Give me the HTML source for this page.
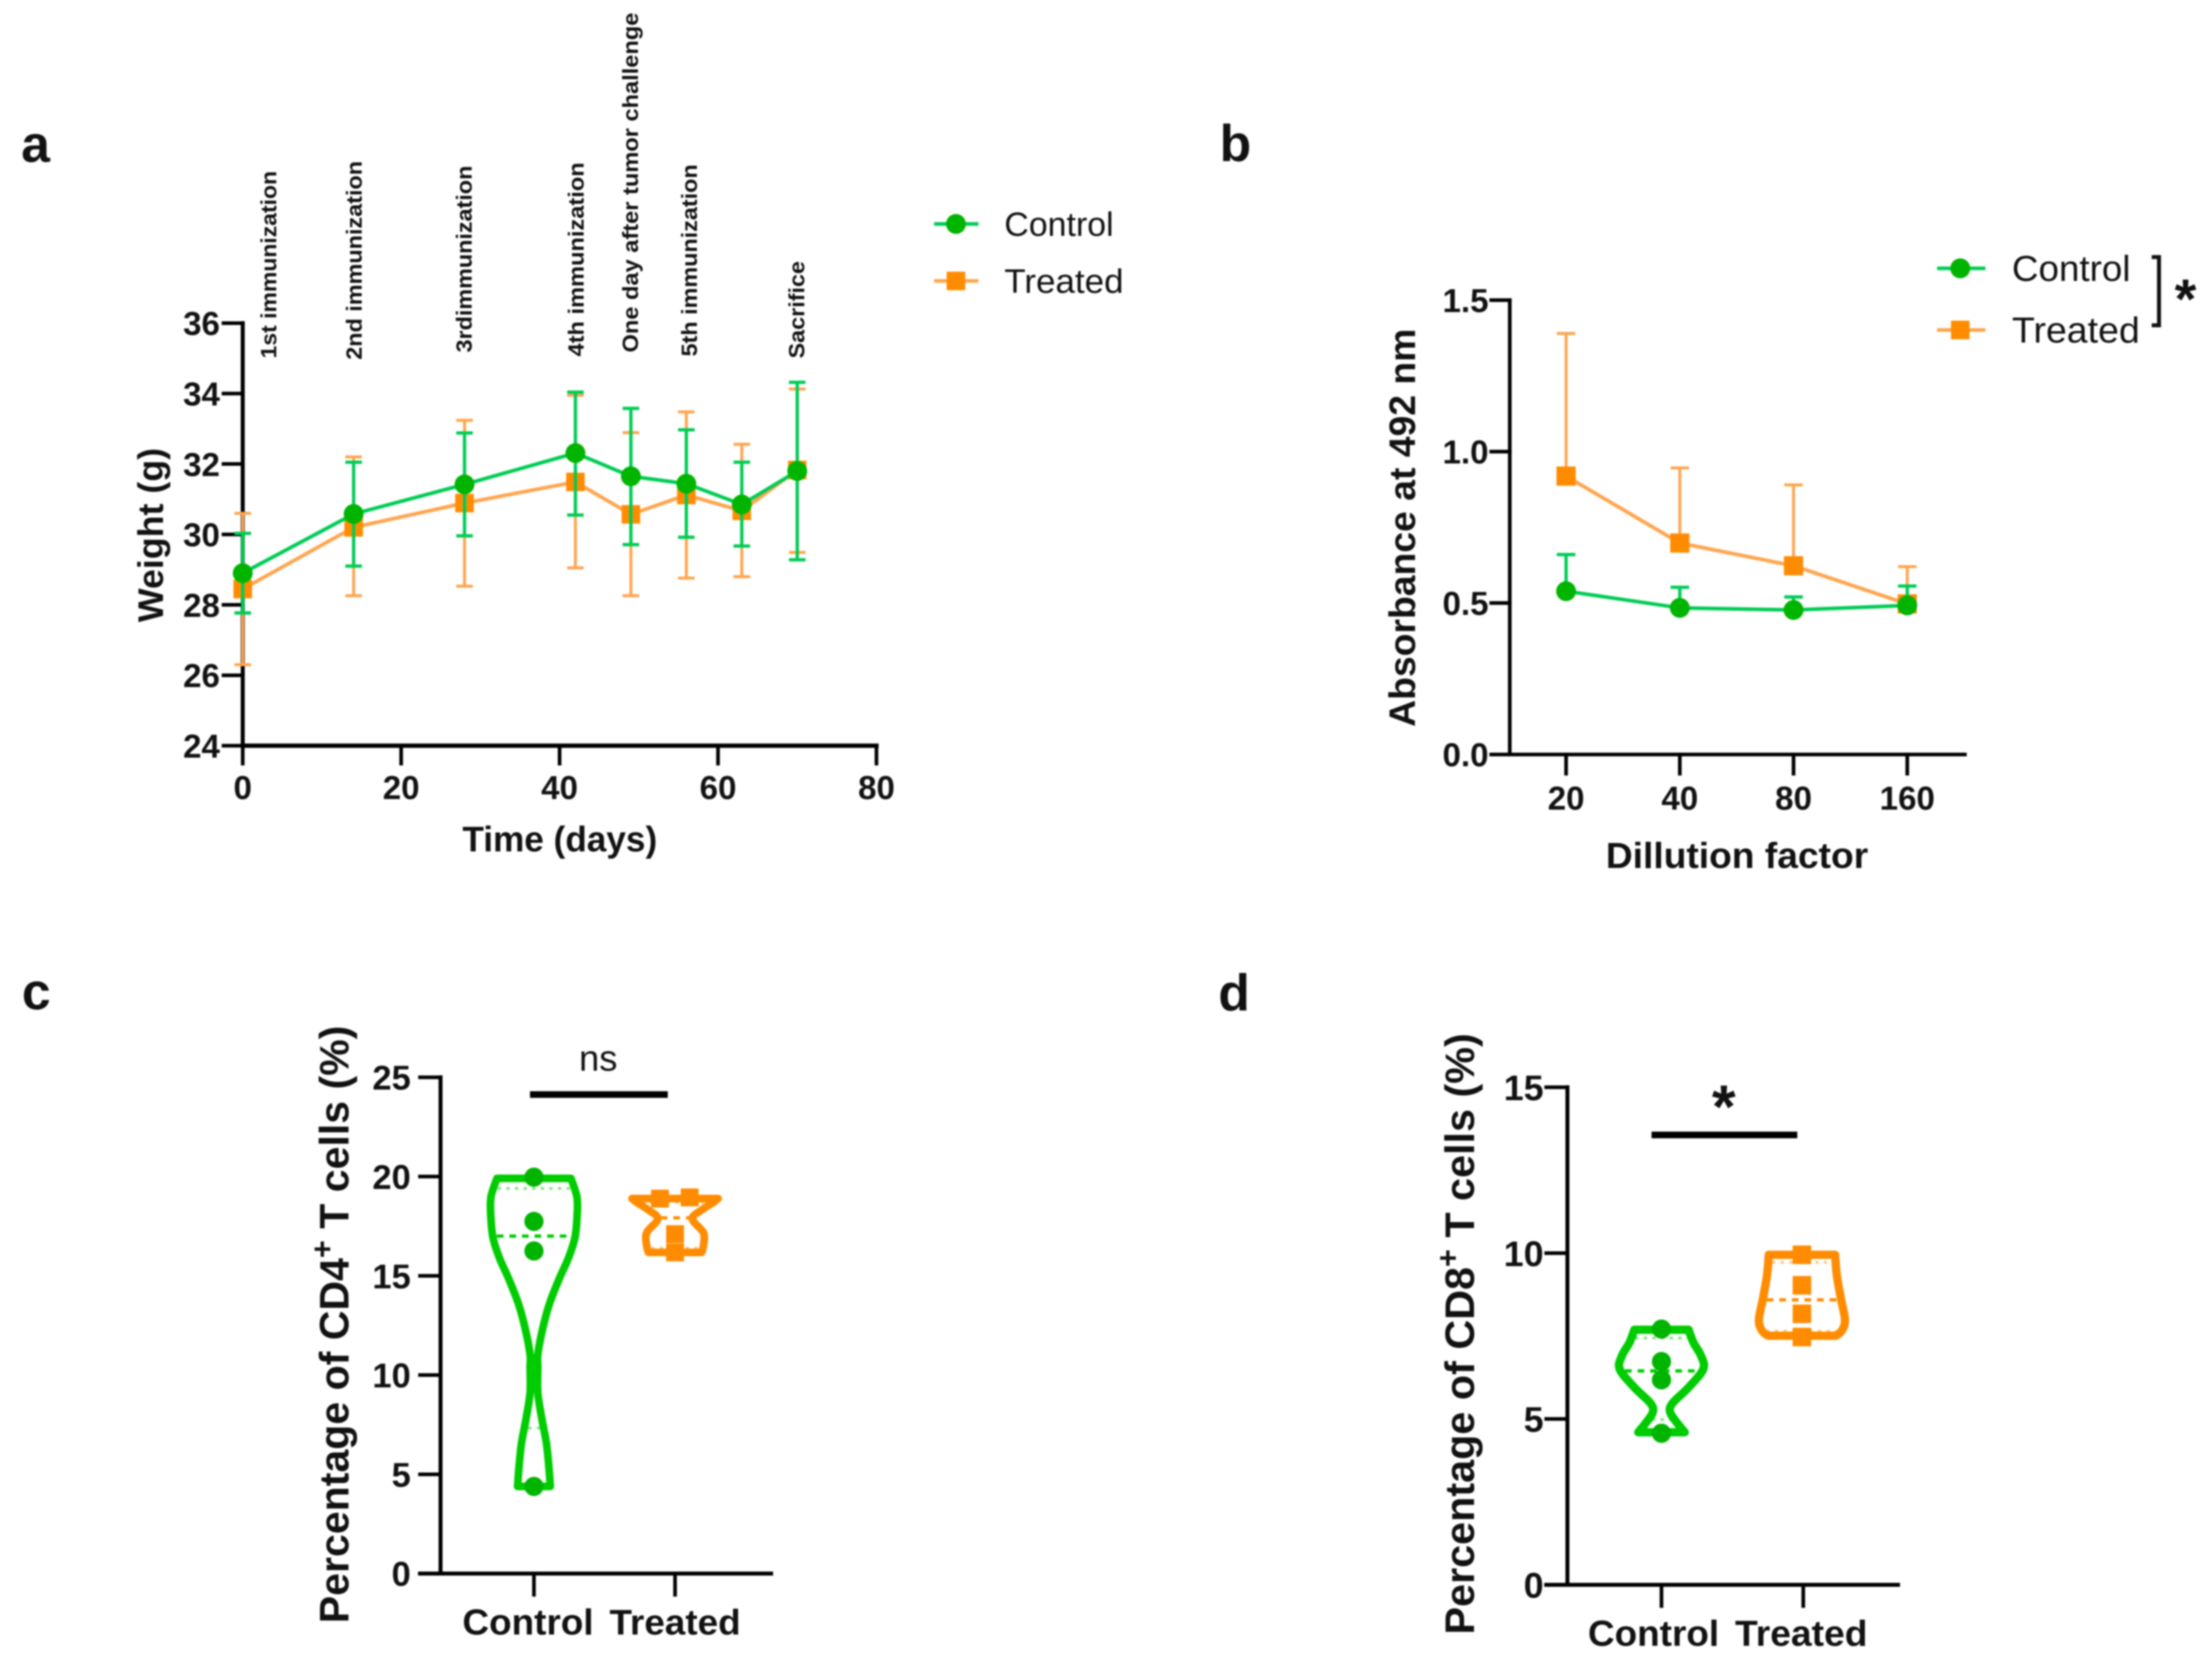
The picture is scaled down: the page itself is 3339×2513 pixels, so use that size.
<!DOCTYPE html>
<html lang="en">
<head>
<meta charset="utf-8">
<title>Weight, absorbance and T cell percentages: control vs treated</title>
<style>
html,body{margin:0;padding:0;background:#fff;width:3339px;height:2513px;overflow:hidden}
svg{display:block;filter:blur(1.3px)}
text{font-family:"Liberation Sans",sans-serif;fill:#111}
.b{font-weight:700}
</style>
</head>
<body>
<svg id="figure" xmlns="http://www.w3.org/2000/svg" width="3339" height="2513" viewBox="0 0 3339 2513">
<rect width="3339" height="2513" fill="#fff"/>

<text class="b" x="32" y="244" font-size="78">a</text>
<text class="b" x="1841" y="243" font-size="78">b</text>
<text class="b" x="33" y="1523" font-size="78">c</text>
<text class="b" x="1839" y="1525" font-size="78">d</text>

<g id="panel-a">
<text class="b" transform="translate(417,541) rotate(-90)" font-size="33" textLength="283" lengthAdjust="spacingAndGlyphs">1st immunization</text>
<text class="b" transform="translate(546,543) rotate(-90)" font-size="33" textLength="300" lengthAdjust="spacingAndGlyphs">2nd immunization</text>
<text class="b" transform="translate(712,532) rotate(-90)" font-size="33" textLength="282" lengthAdjust="spacingAndGlyphs">3rdimmunization</text>
<text class="b" transform="translate(881,538) rotate(-90)" font-size="33" textLength="293" lengthAdjust="spacingAndGlyphs">4th immunization</text>
<text class="b" transform="translate(963,532) rotate(-90)" font-size="33" textLength="513" lengthAdjust="spacingAndGlyphs">One day after tumor challenge</text>
<text class="b" transform="translate(1052,538) rotate(-90)" font-size="33" textLength="290" lengthAdjust="spacingAndGlyphs">5th immunization</text>
<text class="b" transform="translate(1214,541) rotate(-90)" font-size="33" textLength="147" lengthAdjust="spacingAndGlyphs">Sacrifice</text>
<text class="b" transform="translate(246,939) rotate(-90)" font-size="54" textLength="263" lengthAdjust="spacingAndGlyphs">Weight (g)</text>
<text class="b" x="845" y="1285" font-size="54" text-anchor="middle" textLength="294" lengthAdjust="spacingAndGlyphs">Time (days)</text>
<g>
<line x1="1410" y1="338" x2="1477" y2="338" stroke="#00cc55" stroke-width="5.5"/>
<circle cx="1443" cy="338" r="15" fill="#00b400"/>
<text x="1516" y="356" font-size="51" textLength="165" lengthAdjust="spacingAndGlyphs">Control</text>
<line x1="1410" y1="424" x2="1477" y2="424" stroke="#ffa54f" stroke-width="5.5"/>
<rect x="1429" y="410" width="28" height="28" fill="#ff8c00"/>
<text x="1516" y="442" font-size="51" textLength="180" lengthAdjust="spacingAndGlyphs">Treated</text>
</g>
</g>

<g id="panel-b">
<text class="b" transform="translate(2136,1097) rotate(-90)" font-size="56" textLength="601" lengthAdjust="spacingAndGlyphs">Absorbance at 492 nm</text>
<text class="b" x="2622" y="1310" font-size="55" text-anchor="middle" textLength="396" lengthAdjust="spacingAndGlyphs">Dillution factor</text>
<g>
<line x1="2924" y1="405" x2="2997" y2="405" stroke="#00cc55" stroke-width="5.5"/>
<circle cx="2959" cy="405" r="15" fill="#00b400"/>
<text x="3037" y="424" font-size="55" textLength="179" lengthAdjust="spacingAndGlyphs">Control</text>
<line x1="2924" y1="498" x2="2997" y2="498" stroke="#ffa54f" stroke-width="5.5"/>
<rect x="2945" y="484" width="28" height="28" fill="#ff8c00"/>
<text x="3037" y="517" font-size="55" textLength="193" lengthAdjust="spacingAndGlyphs">Treated</text>
<path d="M3248 388H3259V491H3248" fill="none" stroke="#111" stroke-width="6"/>
<text class="b" x="3299" y="480" font-size="84" text-anchor="middle">*</text>
</g>
</g>

<g id="panel-c">
<text class="b" transform="translate(526,2450) rotate(-90)" font-size="62">Percentage of CD4<tspan dy="-24" font-size="46">+</tspan><tspan dy="24"> T cells (%)</tspan></text>
<line x1="800" y1="1652" x2="1008" y2="1652" stroke="#000" stroke-width="10"/>
<text x="903" y="1616" font-size="55" text-anchor="middle">ns</text>
</g>

<g id="panel-d">
<text class="b" transform="translate(2225,2467) rotate(-90)" font-size="62.4">Percentage of CD8<tspan dy="-24" font-size="46">+</tspan><tspan dy="24"> T cells (%)</tspan></text>
<line x1="2493" y1="1713" x2="2713" y2="1713" stroke="#000" stroke-width="10"/>
<text class="b" x="2602" y="1702" font-size="92" text-anchor="middle">*</text>
</g>
</svg>

<script>
// Panel a data
const aDays = [0, 14, 28, 42, 49, 56, 63, 70];
const aControlMean = [28.9, 30.58, 31.42, 32.31, 31.65, 31.44, 30.85, 31.8];
const aControlUpper = [30.03, 32.05, 32.88, 34.04, 33.58, 32.97, 32.05, 34.32];
const aControlLower = [27.77, 29.1, 29.96, 30.55, 29.71, 29.92, 29.67, 29.28];
const aTreatedMean = [28.45, 30.2, 30.89, 31.49, 30.57, 31.12, 30.67, 31.83];
const aTreatedUpper = [30.6, 32.2, 33.24, 33.95, 32.89, 33.48, 32.56, 34.13];
const aTreatedLower = [26.3, 28.26, 28.53, 29.05, 28.26, 28.76, 28.8, 29.49];
const aYTicks = [24, 26, 28, 30, 32, 34, 36];
const aXTicks = [0, 20, 40, 60, 80];

// Panel b data
const bDilutions = ['20', '40', '80', '160'];
const bControlMean = [0.539, 0.484, 0.477, 0.492];
const bControlUpper = [0.66, 0.552, 0.52, 0.556];
const bTreatedMean = [0.919, 0.698, 0.623, 0.497];
const bTreatedUpper = [1.39, 0.946, 0.89, 0.62];
const bYTicks = ['0.0', '0.5', '1.0', '1.5'];

// Panel c data
const groups = ['Control', 'Treated'];
const cYTicks = [0, 5, 10, 15, 20, 25];
const cControlLevels = [19.91, 18.95, 17.93, 16.91, 15.89, 14.87, 13.59, 12.31, 11.03, 10.39, 9.12, 7.84, 6.56, 5.29, 4.39];
const cControlDensity = [0.86, 1, 1, 0.95, 0.8, 0.59, 0.36, 0.2, 0.09, 0.09, 0.09, 0.18, 0.29, 0.35, 0.38];
const cControlPoints = [19.97, 17.74, 16.25, 4.39];
const cControlQuartiles = [7.33, 17.0, 19.4];
const cTreatedLevels = [18.89, 18.7, 18.32, 17.87, 17.17, 16.53, 16.18];
const cTreatedDensity = [1, 0.89, 0.62, 0.4, 0.66, 0.66, 0.62];
const cTreatedPoints = [18.89, 18.95, 17.1, 16.18];
const cTreatedPointJitter = [-0.35, 0.34, 0, 0];
const cTreatedQuartiles = [16.4, 17.92, 18.7];

// Panel d data
const dYTicks = [0, 5, 10, 15];
const dControlLevels = [7.69, 7.31, 6.9, 6.5, 5.95, 5.48, 5.21, 4.87, 4.6];
const dControlDensity = [0.63, 0.74, 0.92, 0.97, 0.63, 0.26, 0.2, 0.37, 0.54];
const dControlPoints = [7.71, 6.73, 6.18, 4.57];
const dControlQuartiles = [4.98, 6.45, 7.44];
const dTreatedLevels = [9.95, 9.34, 8.66, 7.98, 7.65, 7.51];
const dTreatedDensity = [0.77, 0.81, 0.9, 1, 0.92, 0.79];
const dTreatedPoints = [9.95, 9.03, 8.17, 7.47];
const dTreatedQuartiles = [7.65, 8.59, 9.72];

const GREEN_LINE = '#00cc55', GREEN_MARK = '#00b400', GREEN_VIOLIN = '#00cc00';
const ORANGE_LINE = '#ffa54f', ORANGE_MARK = '#ff8c00';
const NS = 'http://www.w3.org/2000/svg';

function linear(d0, d1, r0, r1) {
  return function (v) { return r0 + (v - d0) * (r1 - r0) / (d1 - d0); };
}
function node(parent, tag, props, content) {
  const el = document.createElementNS(NS, tag);
  for (const k in props) el.setAttribute(k, props[k]);
  if (content !== undefined) el.textContent = content;
  parent.appendChild(el);
  return el;
}
function axisLine(parent, x1, y1, x2, y2, width, name) {
  const el = node(parent, 'line', { x1: x1, y1: y1, x2: x2, y2: y2, stroke: '#000', 'stroke-width': width, 'stroke-linecap': 'square' });
  
  
  return el;
}
function yTickLabel(parent, x, y, size, label) {
  const el = node(parent, 'text', { x: x, y: y + size * 0.36, 'font-size': size, 'font-weight': 700, 'text-anchor': 'end' }, label);
  
  
}
function xTickLabel(parent, x, y, size, label, len) {
  const props = { x: x, y: y, 'font-size': size, 'font-weight': 700, 'text-anchor': 'middle' };
  if (len) { props.textLength = len; props.lengthAdjust = 'spacingAndGlyphs'; }
  const el = node(parent, 'text', props, label);
  
  
}
function drawCircle(parent, x, y, r, fill, name) {
  const el = node(parent, 'circle', { cx: x, cy: y, r: r, fill: fill });
  
  
}
function drawSquare(parent, x, y, s, fill, name) {
  const el = node(parent, 'rect', { x: x - s / 2, y: y - s / 2, width: s, height: s, fill: fill });
  
  
}
function drawSeriesLine(parent, xs, ys, color, width, name) {
  const pts = xs.map(function (x, i) { return x + ',' + ys[i]; }).join(' ');
  const el = node(parent, 'polyline', { points: pts, fill: 'none', stroke: color, 'stroke-width': width, 'stroke-linejoin': 'round' });
  
  
}
function drawError(parent, x, yTop, yBottom, cap, color, width, name) {
  const d = 'M' + x + ' ' + yTop + 'V' + yBottom +
    'M' + (x - cap / 2) + ' ' + yTop + 'H' + (x + cap / 2) +
    'M' + (x - cap / 2) + ' ' + yBottom + 'H' + (x + cap / 2);
  const el = node(parent, 'path', { d: d, fill: 'none', stroke: color, 'stroke-width': width });
  
  
}

// Panel a
(function () {
  const g = document.getElementById('panel-a');
  const x = linear(0, 80, 366.4, 1323);
  const y = linear(24, 36, 1125.5, 487.7);
  axisLine(g, x(0), y(24), x(0), y(36), 6, 'y-axis');
  axisLine(g, x(0), y(24), x(80), y(24), 6.5, 'x-axis');
  aYTicks.forEach(function (t) {
    axisLine(g, x(0) - 29, y(t), x(0), y(t), 5.5, 'y-tick-' + t);
    yTickLabel(g, 332, y(t), 50, t);
  });
  aXTicks.forEach(function (t) {
    axisLine(g, x(t), y(24), x(t), y(24) + 27, 5.5, 'x-tick-' + t);
    xTickLabel(g, x(t), 1206, 50, t);
  });
  const px = aDays.map(x);
  aDays.forEach(function (d, i) {
    drawError(g, x(d), y(aTreatedUpper[i]), y(aTreatedLower[i]), 25, ORANGE_LINE, 4.5, 'treated-error-day-' + d);
  });
  drawSeriesLine(g, px, aTreatedMean.map(y), ORANGE_LINE, 5.5, 'treated-line');
  aDays.forEach(function (d, i) {
    drawSquare(g, x(d), y(aTreatedMean[i]), 28, ORANGE_MARK, 'treated-point-day-' + d);
  });
  aDays.forEach(function (d, i) {
    drawError(g, x(d), y(aControlUpper[i]), y(aControlLower[i]), 25, GREEN_LINE, 5, 'control-error-day-' + d);
  });
  drawSeriesLine(g, px, aControlMean.map(y), GREEN_LINE, 5.5, 'control-line');
  aDays.forEach(function (d, i) {
    drawCircle(g, x(d), y(aControlMean[i]), 15, GREEN_MARK, 'control-point-day-' + d);
  });
})();

// Panel b
(function () {
  const g = document.getElementById('panel-b');
  const x = linear(0, 3, 2364, 2879);
  const y = linear(0, 1.5, 1138.7, 453);
  axisLine(g, 2279, y(0), 2279, y(1.5), 5.5, 'y-axis');
  axisLine(g, 2279 - 28, y(0), 2966, y(0), 5.5, 'x-axis');
  bYTicks.forEach(function (t) {
    if (Number(t) > 0) axisLine(g, 2279 - 28, y(Number(t)), 2279, y(Number(t)), 5.5, 'y-tick-' + t);
    yTickLabel(g, 2247, y(Number(t)), 50, t);
  });
  const idx = bDilutions.map(function (_, i) { return x(i); });
  bDilutions.forEach(function (label, i) {
    axisLine(g, x(i), y(0), x(i), y(0) + 29, 5.5, 'x-tick-' + label);
    xTickLabel(g, x(i), 1222, 50, label);
  });
  bDilutions.forEach(function (label, i) {
    drawError(g, x(i), y(bTreatedUpper[i]), y(bTreatedMean[i]), 28, ORANGE_LINE, 4.5, 'treated-error-' + label);
  });
  drawSeriesLine(g, idx, bTreatedMean.map(y), ORANGE_LINE, 5.5, 'treated-line');
  bDilutions.forEach(function (label, i) {
    drawSquare(g, x(i), y(bTreatedMean[i]), 29, ORANGE_MARK, 'treated-point-' + label);
  });
  bDilutions.forEach(function (label, i) {
    drawError(g, x(i), y(bControlUpper[i]), y(bControlMean[i]), 28, GREEN_LINE, 5, 'control-error-' + label);
  });
  drawSeriesLine(g, idx, bControlMean.map(y), GREEN_LINE, 5.5, 'control-line');
  bDilutions.forEach(function (label, i) {
    drawCircle(g, x(i), y(bControlMean[i]), 15, GREEN_MARK, 'control-point-' + label);
  });
})();

// Violin helpers
const DENSITY_PX = 65;
function sideCurve(points) {
  let d = '';
  for (let i = 0; i < points.length - 1; i++) {
    const p0 = points[Math.max(i - 1, 0)], p1 = points[i], p2 = points[i + 1], p3 = points[Math.min(i + 2, points.length - 1)];
    d += 'C' + (p1[0] + (p2[0] - p0[0]) / 6) + ' ' + (p1[1] + (p2[1] - p0[1]) / 6) + ' ' +
      (p2[0] - (p3[0] - p1[0]) / 6) + ' ' + (p2[1] - (p3[1] - p1[1]) / 6) + ' ' + p2[0] + ' ' + p2[1];
  }
  return d;
}
function widthAt(levels, density, v) {
  for (let i = 0; i < levels.length - 1; i++) {
    if (v <= levels[i] && v >= levels[i + 1]) {
      const t = (levels[i] - v) / (levels[i] - levels[i + 1]);
      return density[i] + t * (density[i + 1] - density[i]);
    }
  }
  return v > levels[0] ? density[0] : density[density.length - 1];
}
function drawViolin(parent, cx, y, levels, density, color, strokeWidth, name) {
  const right = levels.map(function (v, i) { return [cx + density[i] * DENSITY_PX, y(v)]; });
  const left = levels.map(function (v, i) { return [cx - density[i] * DENSITY_PX, y(v)]; }).reverse();
  const d = 'M' + right[0][0] + ' ' + right[0][1] + sideCurve(right) +
    'L' + left[0][0] + ' ' + left[0][1] + sideCurve(left) + 'Z';
  const el = node(parent, 'path', { d: d, fill: 'none', stroke: color, 'stroke-width': strokeWidth, 'stroke-linejoin': 'round' });
  
  
}
function drawQuartiles(parent, cx, y, levels, density, quartiles, color, prefix) {
  quartiles.forEach(function (q, i) {
    const hw = Math.max(widthAt(levels, density, q) * DENSITY_PX - 6, 2);
    const median = i === 1;
    const el = node(parent, 'line', {
      x1: cx - hw, x2: cx + hw, y1: y(q), y2: y(q), stroke: color,
      'stroke-width': median ? 5 : 4,
      'stroke-dasharray': median ? '10 9' : '5 8',
      opacity: median ? 1 : 0.5
    });
    
    
  });
}

// Panel c
(function () {
  const g = document.getElementById('panel-c');
  const x = linear(0, 1, 806, 1019);
  const y = linear(0, 25, 2375, 1626);
  axisLine(g, 665, y(0), 665, y(25), 6, 'y-axis');
  axisLine(g, 634, y(0), 1164, y(0), 6, 'x-axis');
  cYTicks.forEach(function (t) {
    if (t > 0) axisLine(g, 634, y(t), 665, y(t), 5.5, 'y-tick-' + t);
    yTickLabel(g, 620, y(t), 52, t);
  });
  groups.forEach(function (label, i) {
    axisLine(g, x(i), y(0), x(i), 2407, 5.5, 'x-tick-' + label.toLowerCase());
  });
  xTickLabel(g, 797, 2467, 55, groups[0], 198);
  xTickLabel(g, 1019, 2467, 54, groups[1], 198);
  drawViolin(g, x(0), y, cControlLevels, cControlDensity, GREEN_VIOLIN, 11.5, 'control-violin');
  drawQuartiles(g, x(0), y, cControlLevels, cControlDensity, cControlQuartiles, GREEN_VIOLIN, 'control');
  cControlPoints.forEach(function (v, i) {
    drawCircle(g, x(0), y(v), 14.5, GREEN_MARK, 'control-point-' + i);
  });
  drawViolin(g, x(1), y, cTreatedLevels, cTreatedDensity, ORANGE_MARK, 11.5, 'treated-violin');
  drawQuartiles(g, x(1), y, cTreatedLevels, cTreatedDensity, cTreatedQuartiles, ORANGE_MARK, 'treated');
  cTreatedPoints.forEach(function (v, i) {
    drawSquare(g, x(1) + cTreatedPointJitter[i] * DENSITY_PX, y(v), 27, ORANGE_MARK, 'treated-point-' + i);
  });
})();

// Panel d
(function () {
  const g = document.getElementById('panel-d');
  const x = linear(0, 1, 2506, 2720);
  const y = linear(0, 15, 2392, 1641);
  axisLine(g, 2366, y(0), 2366, y(15), 6, 'y-axis');
  axisLine(g, 2334, y(0), 2865, y(0), 6, 'x-axis');
  dYTicks.forEach(function (t) {
    if (t > 0) axisLine(g, 2334, y(t), 2366, y(t), 5.5, 'y-tick-' + t);
    yTickLabel(g, 2330, y(t), 54, t);
  });
  groups.forEach(function (label, i) {
    axisLine(g, x(i) + 2, y(0), x(i) + 2, 2424, 5.5, 'x-tick-' + label.toLowerCase());
  });
  xTickLabel(g, 2496, 2484, 55, groups[0], 198);
  xTickLabel(g, 2719, 2484, 55, groups[1], 200);
  drawViolin(g, x(0) + 2, y, dControlLevels, dControlDensity, GREEN_VIOLIN, 12.5, 'control-violin');
  drawQuartiles(g, x(0) + 2, y, dControlLevels, dControlDensity, dControlQuartiles, GREEN_VIOLIN, 'control');
  dControlPoints.forEach(function (v, i) {
    drawCircle(g, x(0) + 2, y(v), 14.5, GREEN_MARK, 'control-point-' + i);
  });
  drawViolin(g, x(1), y, dTreatedLevels, dTreatedDensity, ORANGE_MARK, 12.5, 'treated-violin');
  drawQuartiles(g, x(1), y, dTreatedLevels, dTreatedDensity, dTreatedQuartiles, ORANGE_MARK, 'treated');
  dTreatedPoints.forEach(function (v, i) {
    drawSquare(g, x(1), y(v), 28, ORANGE_MARK, 'treated-point-' + i);
  });
})();
</script>
</body>
</html>
